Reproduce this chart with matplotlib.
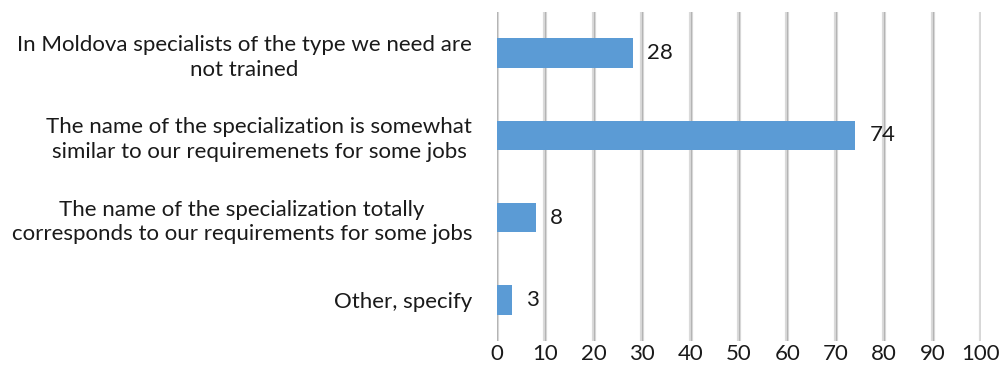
import numpy as np
import matplotlib
matplotlib.use('Agg')
import matplotlib.pyplot as plt

# Data
categories = [
    "In Moldova specialists of the type we need are\nnot trained",
    "The name of the specialization is somewhat\nsimilar to our requiremenets for some jobs",
    "The name of the specialization totally\ncorresponds to our requirements for some jobs",
    "Other, specify",
]
values = [28, 74, 8, 3]
x_ticks = list(range(0, 101, 10))

BAR_COLOR = '#5B9BD5'
TEXT_COLOR = '#1A1A1A'
FS = 16
plt.rcParams['font.family'] = ['Lato', 'DejaVu Sans']

fig = plt.figure(figsize=(10.05, 3.81), dpi=100)
ax = fig.add_axes([497 / 1005, 40 / 381, (981 - 497) / 1005, (341 - 12) / 381])

y_pos = np.arange(len(categories))
ax.barh(y_pos, values, height=0.36, color=BAR_COLOR, zorder=3)

# gridlines: light wide band with darker center
for t in x_ticks:
    ax.axvline(t, color='#DADADA', lw=3, zorder=1)
    ax.axvline(t, color='#B4B4B4', lw=0.8, zorder=2)

for y, v in zip(y_pos, values):
    ax.text(v + 3, y, str(v), va='center', ha='left', fontsize=FS, color=TEXT_COLOR)

ax.set_xlim(0, 100)
ax.set_ylim(len(categories) - 0.5, -0.5)
ax.set_xticks(x_ticks)
ax.set_xticklabels([str(t) for t in x_ticks], fontsize=FS, color=TEXT_COLOR)
ax.set_yticks(y_pos)
ax.set_yticklabels(categories, fontsize=FS, color=TEXT_COLOR,
                   multialignment='center', linespacing=1.3)
ax.tick_params(axis='both', length=0)
ax.tick_params(axis='y', pad=18)
ax.tick_params(axis='x', pad=2)
for s in ax.spines.values():
    s.set_visible(False)

plt.savefig('out.png', dpi=100)
